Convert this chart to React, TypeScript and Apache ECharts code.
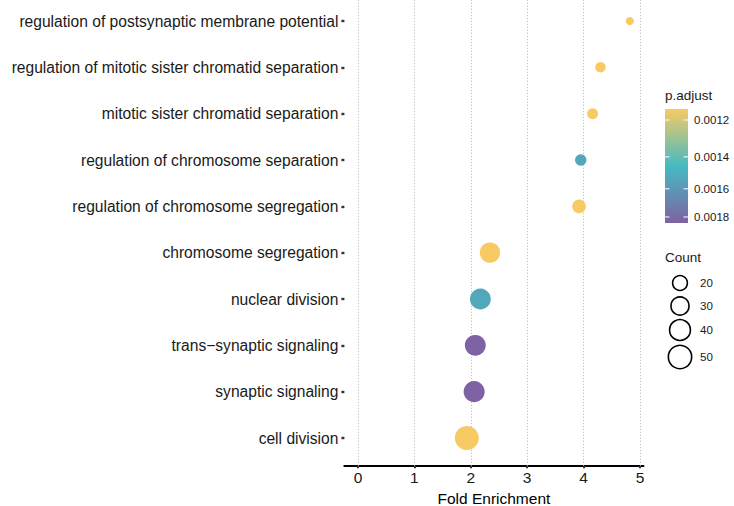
import React, { useEffect, useRef } from "react";
import * as echarts from "echarts";

const categories = [
  "cell division",
  "synaptic signaling",
  "trans\u2212synaptic signaling",
  "nuclear division",
  "chromosome segregation",
  "regulation of chromosome segregation",
  "regulation of chromosome separation",
  "mitotic sister chromatid separation",
  "regulation of mitotic sister chromatid separation",
  "regulation of postsynaptic membrane potential",
];
const foldEnrichment = [1.93, 2.06, 2.08, 2.17, 2.34, 3.92, 3.95, 4.16, 4.3, 4.82];
const counts = [53, 41, 40, 40, 38, 17, 12, 11, 10, 6];
const pAdjust = [0.001146, 0.001846, 0.001846, 0.00153, 0.001146, 0.001146, 0.00153, 0.001146, 0.001146, 0.001146];

const xTicks = [0, 1, 2, 3, 4, 5];
const colorTicks = [0.0012, 0.0014, 0.0016, 0.0018];
const countBreaks = [20, 30, 40, 50];
const palette = ["#f7ca64", "#46bac2", "#7e62a3"];

const FONT = "Liberation Sans, Arial, Helvetica, sans-serif";
const sizeOf = (n: number) => 3.3 * Math.sqrt(n);

export default function App() {
  const ref = useRef<HTMLDivElement>(null);
  useEffect(() => {
    document.body.style.margin = "0";
    if (!ref.current) return;
    const chart = echarts.init(ref.current, null, { renderer: "svg" });

    const lnP = pAdjust.map((p) => Math.log(p));
    const lnMin = Math.min(...lnP);
    const lnMax = Math.max(...lnP);
    const xMin = 0;
    const xMax = Math.max(...foldEnrichment);
    const pad = (xMax - xMin) * 0.05;
    const nCat = categories.length;

    const gridBottomPx = 465.8;
    const rowPx = 46.33;
    const yMaxVisible = nCat - 1 + 21 / rowPx;

    const data = categories.map((_, i) => [foldEnrichment[i], i, counts[i], lnP[i]]);

    const barX = 665, barY = 109, barW = 23, barH = 114;
    const graphics: any[] = [];
    graphics.push({
      type: "text",
      left: 665,
      top: 88,
      style: { text: "p.adjust", font: `13.5px ${FONT}`, fill: "#1a1a1a" },
    });
    graphics.push({
      type: "rect",
      shape: { x: barX, y: barY, width: barW, height: barH },
      style: {
        fill: new echarts.graphic.LinearGradient(0, 0, 0, 1, [
          { offset: 0, color: palette[0] },
          { offset: 0.5, color: palette[1] },
          { offset: 1, color: palette[2] },
        ]),
      },
    });
    colorTicks.forEach((v) => {
      const y = barY + ((Math.log(v) - lnMin) / (lnMax - lnMin)) * barH;
      graphics.push({
        type: "line",
        shape: { x1: barX, y1: y, x2: barX + 4.5, y2: y },
        style: { stroke: "#ffffff", lineWidth: 1 },
      });
      graphics.push({
        type: "line",
        shape: { x1: barX + barW - 4.5, y1: y, x2: barX + barW, y2: y },
        style: { stroke: "#ffffff", lineWidth: 1 },
      });
      graphics.push({
        type: "text",
        x: 694,
        y: y,
        style: {
          text: v.toFixed(4),
          font: `11.5px ${FONT}`,
          fill: "#1a1a1a",
          verticalAlign: "middle",
        },
      });
    });

    graphics.push({
      type: "text",
      left: 665,
      top: 250,
      style: { text: "Count", font: `13.5px ${FONT}`, fill: "#1a1a1a" },
    });
    const countY = [283, 306, 330, 357];
    countBreaks.forEach((c, k) => {
      graphics.push({
        type: "circle",
        shape: { cx: 680, cy: countY[k], r: sizeOf(c) / 2 },
        style: { fill: "none", stroke: "#000", lineWidth: 1.6 },
      });
      graphics.push({
        type: "text",
        x: 700,
        y: countY[k],
        style: {
          text: String(c),
          font: `11.5px ${FONT}`,
          fill: "#1a1a1a",
          verticalAlign: "middle",
        },
      });
    });

    const option: any = {
      animation: false,
      backgroundColor: "#ffffff",
      textStyle: { fontFamily: FONT },
      grid: {
        left: 344.4,
        right: 90.6,
        top: 0,
        bottom: 506 - gridBottomPx,
        containLabel: false,
        outerBoundsMode: "none",
      },
      xAxis: {
        type: "value",
        min: xMin - pad,
        max: xMax + pad,
        name: "Fold Enrichment",
        nameLocation: "middle",
        nameGap: 22,
        nameTextStyle: { fontSize: 15.5, color: "#000", fontFamily: FONT },
        axisLine: { show: true, onZero: false, lineStyle: { color: "#000", width: 2.2 } },
        axisTick: { show: true, length: 2.5, customValues: xTicks, lineStyle: { color: "#333", width: 2 } },
        axisLabel: {
          customValues: xTicks,
          fontSize: 15.5,
          color: "#1a1a1a",
          margin: 4,
          fontFamily: FONT,
        },
        splitLine: { show: false },
      },
      yAxis: {
        type: "value",
        min: -0.6,
        max: yMaxVisible,
        axisLine: { show: false, onZero: false },
        axisTick: {
          show: true,
          length: 3,
          customValues: categories.map((_, i) => i),
          lineStyle: { color: "#333", width: 2.4 },
        },
        axisLabel: {
          customValues: categories.map((_, i) => i),
          formatter: (v: number) => categories[Math.round(v)] ?? "",
          fontSize: 15.6,
          color: "#1a1a1a",
          margin: 6,
          fontFamily: FONT,
        },
        splitLine: { show: false },
      },
      visualMap: {
        show: false,
        type: "continuous",
        dimension: 3,
        min: lnMin,
        max: lnMax,
        seriesIndex: 0,
        inRange: { color: palette },
      },
      graphic: graphics,
      series: [
        {
          type: "scatter",
          z: 3,
          data,
          symbolSize: (d: number[]) => sizeOf(d[2]),
          itemStyle: { opacity: 1 },
          markLine: {
            z: 1,
            silent: true,
            symbol: "none",
            label: { show: false },
            lineStyle: { type: [1, 2], color: "#b5b5b5", width: 1 },
            data: xTicks.map((v) => ({ xAxis: v })),
          },
        },
      ],
    };
    chart.setOption(option);
    return () => chart.dispose();
  }, []);
  return <div ref={ref} style={{ width: 734, height: 506 }} />;
}
